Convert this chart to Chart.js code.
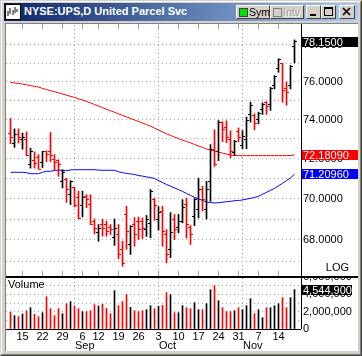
<!DOCTYPE html>
<html><head><meta charset="utf-8">
<script src="https://cdn.jsdelivr.net/npm/chart.js@4.4.0/dist/chart.umd.min.js"></script>
<style>
html,body{margin:0;padding:0;}
body{width:362px;height:356px;position:relative;overflow:hidden;background:#d4d0c8;font-family:"Liberation Sans",Arial,sans-serif;}
#outer{position:absolute;left:0;top:0;width:360px;height:354px;border-top:1px solid #d4d0c8;border-left:1px solid #d4d0c8;border-right:1px solid #404040;border-bottom:1px solid #404040;}
#outer2{position:absolute;left:1px;top:1px;width:358px;height:352px;border-top:1px solid #fff;border-left:1px solid #fff;border-right:1px solid #808080;border-bottom:1px solid #808080;}
#tb{position:absolute;left:4px;top:3px;width:354px;height:18px;background:linear-gradient(to right,#0a246a,#a6caf0);}
#ttl{position:absolute;left:20px;top:2px;color:#fff;font:bold 11px "Liberation Sans",Arial,sans-serif;white-space:nowrap;}
#icon{position:absolute;left:1px;top:1px;width:16px;height:16px;}
.btn{position:absolute;top:2px;height:14px;background:#d4d0c8;box-sizing:border-box;border-top:1px solid #fff;border-left:1px solid #fff;border-right:1px solid #404040;border-bottom:1px solid #404040;font:10.5px "Liberation Sans",Arial,sans-serif;line-height:12px;color:#000;}
.led{position:absolute;left:2px;top:2px;width:7px;height:7px;border:1px solid #404040;background:#00e000;}
.led.off{background:#d4d0c8;border-color:#808080;}
.btn .t{position:absolute;left:12px;top:0px;}
.btn.dis .t{color:#a0a0a0;text-shadow:1px 1px 0 #fff;}
#white{position:absolute;left:5px;top:23px;width:353px;height:328px;background:#fff;border-top:1px solid #808080;border-left:1px solid #808080;box-sizing:border-box;}
#pwrap{position:absolute;left:0;top:0;width:362px;height:276px;overflow:hidden;}
#vwrap{position:absolute;left:0;top:278px;width:362px;height:74px;overflow:hidden;}
#pc{position:absolute;left:0;top:0;}
#vc{position:absolute;left:0;top:-278px;}
#sep{position:absolute;left:6px;top:276px;width:352px;height:2px;background:#000;}
</style></head>
<body>
<div id="outer"></div><div id="outer2"></div>
<div id="tb">
  <svg id="icon" width="16" height="16" viewBox="0 0 16 16"><rect x="0.5" y="0.5" width="15" height="15" fill="#fff" stroke="#000"/><path d="M3 12V7M5 10V4M8 11V6M10 9V3M12 8V5" stroke="#000" stroke-width="1"/></svg>
  <div id="ttl">NYSE:UPS,D United Parcel Svc</div>
  <div class="btn" style="left:232px;width:34px"><span class="led"></span><span class="t">Sym</span></div>
  <div class="btn dis" style="left:266px;width:34px"><span class="led off"></span><span class="t">Intv</span></div>
  <div class="btn" style="left:302px;width:15px"><svg width="13" height="12"><rect x="3" y="8" width="6" height="2" fill="#000"/></svg></div>
  <div class="btn" style="left:317px;width:15px"><svg width="13" height="12"><rect x="2.5" y="1.5" width="8" height="8" fill="none" stroke="#000"/><rect x="2" y="1" width="9" height="2" fill="#000"/></svg></div>
  <div class="btn" style="left:335px;width:16px"><svg width="14" height="12"><path d="M3 2L10 9M10 2L3 9" stroke="#000" stroke-width="1.6"/></svg></div>
</div>
<div id="white"></div>
<div id="pwrap"><canvas id="pc" width="362" height="356"></canvas></div>
<div id="vwrap"><canvas id="vc" width="362" height="356"></canvas></div>
<div id="sep"></div>
<script>
const FONT = '"Liberation Sans", Arial, sans-serif';
const dates = [
 '2005-08-10','2005-08-11','2005-08-12','2005-08-15','2005-08-16','2005-08-17','2005-08-18','2005-08-19','2005-08-22','2005-08-23','2005-08-24','2005-08-25','2005-08-26','2005-08-29','2005-08-30','2005-08-31',
 '2005-09-01','2005-09-02','2005-09-06','2005-09-07','2005-09-08','2005-09-09','2005-09-12','2005-09-13','2005-09-14','2005-09-15','2005-09-16','2005-09-19','2005-09-20','2005-09-21','2005-09-22','2005-09-23','2005-09-26','2005-09-27','2005-09-28','2005-09-29','2005-09-30',
 '2005-10-03','2005-10-04','2005-10-05','2005-10-06','2005-10-07','2005-10-10','2005-10-11','2005-10-12','2005-10-13','2005-10-14','2005-10-17','2005-10-18','2005-10-19','2005-10-20','2005-10-21','2005-10-24','2005-10-25','2005-10-26','2005-10-27','2005-10-28','2005-10-31',
 '2005-11-01','2005-11-02','2005-11-03','2005-11-04','2005-11-07','2005-11-08','2005-11-09','2005-11-10','2005-11-11','2005-11-14','2005-11-15','2005-11-16','2005-11-17','2005-11-18'
];
const open = [73.30,72.79,73.21,72.96,72.96,71.68,71.89,72.05,71.79,72.35,72.35,71.94,71.90,70.86,70.94,70.20,70.55,70.05,69.67,70.10,69.71,68.88,68.34,68.74,68.74,68.60,68.11,68.26,67.55,69.23,67.78,68.74,68.88,68.88,68.50,68.78,69.95,68.98,69.37,68.26,67.55,68.98,68.60,68.90,69.71,68.60,69.15,69.47,70.45,69.47,70.86,72.45,72.37,73.83,73.57,72.96,72.30,73.36,72.65,72.96,74.27,74.20,73.99,74.51,74.88,74.78,75.82,76.73,76.95,75.66,75.79,77.88];
const high = [74.07,73.52,73.52,73.30,73.36,72.53,72.34,72.20,72.37,72.39,73.33,72.20,71.94,71.44,71.02,70.89,70.56,70.37,70.37,70.20,70.20,69.01,68.74,69.01,68.90,68.74,69.01,68.74,67.94,69.63,68.69,69.08,69.11,69.06,69.18,70.45,70.03,69.61,69.63,68.50,69.32,69.23,69.23,69.95,70.03,68.69,70.03,71.02,70.61,70.86,72.71,73.47,73.95,73.89,73.94,73.42,72.93,73.57,73.43,74.13,74.91,74.30,74.39,74.88,74.94,75.70,76.32,77.23,76.99,75.98,76.87,78.26];
const low = [72.76,72.57,72.79,72.48,72.14,71.52,71.52,71.47,71.55,71.85,71.85,71.44,71.11,70.53,69.82,69.71,69.60,69.01,69.11,69.55,68.74,68.29,67.94,68.18,68.18,68.26,67.74,67.11,66.76,67.55,67.31,67.70,68.02,68.07,68.17,68.11,68.94,68.47,67.70,66.92,67.16,68.02,68.34,68.82,68.10,67.78,68.69,69.06,69.39,69.01,69.87,71.61,71.90,72.86,72.80,72.05,72.17,72.85,72.50,72.50,73.87,73.47,73.78,74.27,74.27,74.48,75.61,76.50,74.91,74.75,75.61,77.01];
const close = [73.05,73.21,73.05,73.08,72.14,72.34,71.77,71.47,72.35,72.20,72.14,71.80,71.69,71.28,70.45,70.85,69.66,69.02,70.08,69.95,68.76,68.53,68.53,68.53,68.42,68.50,68.53,67.31,66.89,68.42,68.63,68.26,68.50,68.57,68.98,70.37,69.66,69.34,68.39,67.31,68.34,68.50,68.90,69.55,68.74,68.26,69.95,70.45,69.95,70.45,72.48,71.69,73.84,73.51,73.06,72.35,72.85,73.10,73.12,73.95,74.72,73.78,74.30,74.78,74.67,75.66,76.27,77.17,75.52,75.43,76.81,78.15];
const volume = [1920000,1540000,1420000,1730000,2120000,2460000,1690000,1420000,1880000,3730000,2350000,1540000,2350000,1770000,2920000,3160000,2660000,2350000,2000000,2000000,2120000,2810000,2660000,2850000,2390000,1770000,4430000,2690000,3160000,3970000,2500000,2120000,2000000,2120000,2230000,2690000,2350000,2620000,2730000,4200000,3970000,1880000,1880000,2690000,2460000,2350000,3040000,2230000,2230000,2920000,4540000,5010000,3270000,2460000,2000000,2000000,2120000,2460000,2230000,2690000,3500000,1770000,2230000,1310000,2460000,2460000,2690000,2920000,3620000,2460000,3620000,4544900];
const maRed = [75.96,75.93,75.90,75.87,75.83,75.79,75.75,75.71,75.64,75.58,75.52,75.46,75.41,75.34,75.28,75.22,75.16,75.09,75.03,74.95,74.87,74.79,74.71,74.62,74.54,74.46,74.38,74.30,74.22,74.14,74.06,73.98,73.90,73.82,73.74,73.66,73.56,73.46,73.36,73.27,73.18,73.10,73.02,72.94,72.87,72.80,72.72,72.64,72.57,72.49,72.44,72.38,72.33,72.28,72.23,72.19,72.15,72.15,72.15,72.15,72.15,72.15,72.15,72.15,72.15,72.15,72.15,72.15,72.15,72.15,72.16,72.1809];
const maBlue = [71.31,71.31,71.31,71.31,71.29,71.24,71.24,71.24,71.31,71.36,71.36,71.41,71.41,71.41,71.39,71.43,71.44,71.44,71.44,71.44,71.44,71.44,71.42,71.41,71.41,71.41,71.41,71.34,71.29,71.26,71.23,71.20,71.15,71.12,71.08,71.05,71.00,70.90,70.80,70.70,70.62,70.53,70.45,70.36,70.26,70.16,70.07,69.99,69.92,69.84,69.81,69.79,69.80,69.83,69.85,69.87,69.90,69.91,69.94,69.98,70.02,70.06,70.12,70.22,70.31,70.41,70.51,70.64,70.76,70.90,71.03,71.2096];
const priceGrid = [67,68,69,70,71,72,73,74,75,76,77,78];
const volGrid = [0,1000000,2000000,3000000,4000000,5000000,6000000];
const monthNames = ['Jan','Feb','Mar','Apr','May','Jun','Jul','Aug','Sep','Oct','Nov','Dec'];

const X_MIN = -1.125, X_MAX = 72.625;
const P_MIN = 66.30, P_MAX = 79.14;
const V_MAX = 6000000;
const GRID = '#a0a0a0';
const UP = '#000000', DOWN = '#ff0000';

const dObj = dates.map(s => new Date(s + 'T00:00:00Z'));
const weekStarts = [], monthStarts = [];
for (let i = 1; i < dObj.length; i++) {
  if (dObj[i].getUTCDay() < dObj[i-1].getUTCDay()) weekStarts.push(i);
  if (dObj[i].getUTCMonth() !== dObj[i-1].getUTCMonth()) monthStarts.push(i);
}
const barColors = close.map((c, i) => c >= open[i] ? UP : DOWN);
const n = dates.length;

function vGrid(chart) {
  const {ctx, chartArea: a, scales: {x}} = chart;
  ctx.save();
  ctx.fillStyle = GRID;
  monthStarts.forEach(i => {
    const px = Math.floor(x.getPixelForValue(i));
    for (let y = Math.ceil(a.top) + 1; y < a.bottom; y += 4) ctx.fillRect(px, y, 1, 1);
  });
  ctx.restore();
}
function valueBox(ctx, y, w, bg, text) {
  ctx.fillStyle = bg;
  ctx.fillRect(302, Math.round(y) - 5, w, 10);
  ctx.fillStyle = '#fff';
  ctx.font = '11px ' + FONT;
  ctx.textAlign = 'left';
  ctx.textBaseline = 'middle';
  ctx.fillText(text, 303, Math.round(y) + 0.5);
}

const pricePlugin = {
  id: 'pricePlugin',
  beforeDatasetsDraw(chart) {
    vGrid(chart);
    const {ctx, chartArea: a, scales: {x}} = chart;
    ctx.save(); ctx.fillStyle = GRID;
    weekStarts.forEach(i => {
      const px = Math.floor(x.getPixelForValue(i));
      ctx.fillRect(px, a.top, 1, 5);
      ctx.fillRect(px, a.bottom - 5, 1, 5);
    });
    ctx.restore();
  },
  afterDatasetsDraw(chart) {
    const {ctx, scales: {x, y}} = chart;
    ctx.save();
    for (let i = 0; i < n; i++) {
      const px = Math.floor(x.getPixelForValue(i));
      ctx.fillStyle = barColors[i];
      ctx.fillRect(px - 2, Math.floor(y.getPixelForValue(open[i])), 2, 1);
      ctx.fillRect(px + 1, Math.floor(y.getPixelForValue(close[i])), 2, 1);
    }
    ctx.restore();
  },
  afterDraw(chart) {
    const {ctx, chartArea: a, scales: {y}} = chart;
    ctx.save();
    ctx.fillStyle = '#000';
    ctx.fillRect(301, a.top, 1, a.bottom - a.top);
    valueBox(ctx, y.getPixelForValue(close[n-1]), 56, '#000', close[n-1].toFixed(4));
    valueBox(ctx, y.getPixelForValue(maRed[n-1]), 56, '#ff0000', maRed[n-1].toFixed(5));
    valueBox(ctx, y.getPixelForValue(maBlue[n-1]), 56, '#0000ff', maBlue[n-1].toFixed(5));
    ctx.fillStyle = '#000';
    ctx.font = '11px ' + FONT;
    ctx.textAlign = 'right'; ctx.textBaseline = 'middle';
    ctx.fillText('LOG', 349, a.bottom - 8);
    ctx.restore();
  }
};

const volPlugin = {
  id: 'volPlugin',
  beforeDatasetsDraw(chart) { vGrid(chart); },
  afterDraw(chart) {
    const {ctx, chartArea: a, scales: {x, y}} = chart;
    ctx.save();
    ctx.fillStyle = '#000';
    ctx.fillRect(301, a.top - 2, 1, a.bottom - a.top + 2);
    ctx.fillRect(6, a.bottom, 295, 1);
    valueBox(ctx, y.getPixelForValue(volume[n-1]), 50, '#000', volume[n-1].toLocaleString('en-US'));
    ctx.fillStyle = '#000';
    ctx.font = '11px ' + FONT;
    ctx.textAlign = 'left'; ctx.textBaseline = 'middle';
    ctx.fillText('Volume', 8, a.top + 8);
    monthStarts.forEach(i => {
      ctx.fillText(monthNames[dObj[i].getUTCMonth()], Math.floor(x.getPixelForValue(i)) + 1, 346);
    });
    ctx.restore();
  }
};

const common = {
  responsive: false, animation: false, events: [],
  plugins: { legend: { display: false }, tooltip: { enabled: false } }
};

new Chart(document.getElementById('pc'), {
  type: 'bar',
  data: { datasets: [
    { type: 'bar', data: dates.map((d, i) => ({ x: i, y: [low[i], high[i]] })), backgroundColor: barColors, barThickness: 1, borderWidth: 0, order: 0 },
    { type: 'line', data: maRed.map((v, i) => ({ x: i, y: v })), borderColor: '#ff0000', borderWidth: 1, pointRadius: 0, tension: 0, order: 1 },
    { type: 'line', data: maBlue.map((v, i) => ({ x: i, y: v })), borderColor: '#0000ff', borderWidth: 1, pointRadius: 0, tension: 0, order: 1 }
  ]},
  options: Object.assign({}, common, {
    layout: { padding: { left: 6, top: 24, right: 5, bottom: 80 } },
    scales: {
      x: { type: 'linear', min: X_MIN, max: X_MAX, offset: false, display: false },
      y: { type: 'logarithmic', position: 'right', min: P_MIN, max: P_MAX,
        afterFit(s) { s.width = 56; },
        afterBuildTicks(s) { s.ticks = priceGrid.map(v => ({ value: v })); },
        ticks: { autoSkip: false, padding: 2, color: '#000', font: { family: FONT, size: 11 },
          callback: (v) => (v % 2 === 0 ? Number(v).toFixed(4) : '') },
        grid: { color: GRID, drawTicks: false, lineWidth: 1 },
        border: { display: false, dash: [1, 3] }
      }
    }
  }),
  plugins: [pricePlugin]
});

new Chart(document.getElementById('vc'), {
  type: 'bar',
  data: { datasets: [
    { type: 'bar', data: volume.map((v, i) => ({ x: i, y: v })), backgroundColor: barColors, barThickness: 1, borderWidth: 0 }
  ]},
  options: Object.assign({}, common, {
    layout: { padding: { left: 6, top: 277, right: 5, bottom: 7 } },
    scales: {
      x: { type: 'linear', min: X_MIN, max: X_MAX, offset: false, position: 'bottom',
        afterFit(s) { s.height = 20; },
        afterBuildTicks(s) { s.ticks = weekStarts.map(v => ({ value: v })); },
        ticks: { autoSkip: false, maxRotation: 0, padding: 1, color: '#000', font: { family: FONT, size: 11 },
          callback: (v) => String(dObj[v].getUTCDate()) },
        grid: { display: false, drawTicks: false },
        border: { display: false }
      },
      y: { type: 'linear', position: 'right', min: 0, max: V_MAX,
        afterFit(s) { s.width = 56; },
        afterBuildTicks(s) { s.ticks = volGrid.map(v => ({ value: v })); },
        ticks: { autoSkip: false, padding: 2, color: '#000', font: { family: FONT, size: 11 },
          callback: (v) => (v % 2000000 === 0 ? Number(v).toLocaleString('en-US') : '') },
        grid: { color: GRID, drawTicks: false, lineWidth: 1 },
        border: { display: false, dash: [1, 3] }
      }
    }
  }),
  plugins: [volPlugin]
});
</script>
</body></html>
